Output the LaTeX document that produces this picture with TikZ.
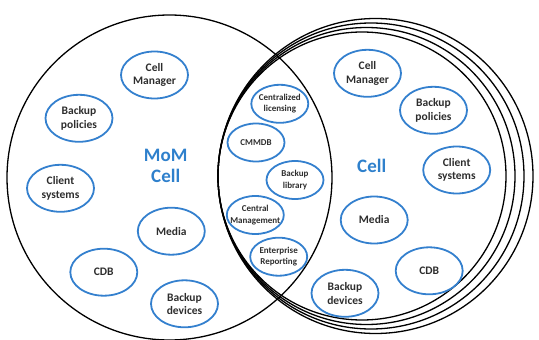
\documentclass[tikz,border=0pt]{standalone}
\usepackage{fontspec}
\setmainfont{Carlito}
\usetikzlibrary{shapes.geometric}
\definecolor{bubbleblue}{RGB}{52,128,206}
\definecolor{titleblue}{RGB}{46,128,204}
\definecolor{ink}{RGB}{45,45,45}
\begin{document}
\begin{tikzpicture}[x=1pt,y=-1pt,
  ring/.style={circle,draw=black,line width=1.3pt,inner sep=0pt},
  bub/.style={ellipse,draw=bubbleblue,line width=1.8pt,inner sep=0pt,
              minimum width=67pt,minimum height=47pt},
  sbub/.style={bub,minimum width=57pt,minimum height=38pt},
  btxt/.style={font=\bfseries\fontsize{11.5}{13.5}\selectfont,text=ink,align=center,inner sep=0pt},
  stxt/.style={font=\bfseries\fontsize{9}{11.5}\selectfont,text=ink,align=center,inner sep=0pt},
  title/.style={font=\bfseries\fontsize{19}{21}\selectfont,text=titleblue,align=center}]

\useasboundingbox (0,0) rectangle (539,340);

% the MoM cell
\node[ring,minimum size=325pt] (mom) at (169.5,177.5) {};
% stack of managed cells, all touching at their left edge
\node[ring,minimum size=288pt] (cellA) at (362,176) {};
\node[ring,minimum size=297pt] (cellB) at (366.5,176) {};
\node[ring,minimum size=306pt] (cellC) at (371,176) {};
\node[ring,minimum size=315pt] (cellD) at (375.5,176) {};

% titles
\node[title] (momtitle) at (165.7,166) {MoM\\Cell};
\node[title] (celltitle) at (371.7,166) {Cell};

% components of the MoM cell
\node[bub,label={[btxt]center:Cell\\Manager}]     (lcm)  at (154.5,75) {};
\node[bub,label={[btxt]center:Backup\\policies}]  (lbp)  at (79,118.3) {};
\node[bub,label={[btxt]center:Client\\systems}]   (lcs)  at (60.5,188.3) {};
\node[bub,label={[btxt]center:Media}]             (lmd)  at (171.3,231.2) {};
\node[bub,label={[btxt]center:CDB}]               (lcdb) at (103.8,272.2) {};
\node[bub,label={[btxt]center:Backup\\devices}]   (lbd)  at (184.5,303.8) {};

% components of a cell
\node[bub,label={[btxt]center:Cell\\Manager}]     (rcm)  at (367.5,73.3) {};
\node[bub,label={[btxt]center:Backup\\policies}]  (rbp)  at (433.5,110.3) {};
\node[bub,label={[btxt]center:Client\\systems}]   (rcs)  at (456.7,170) {};
\node[bub,label={[btxt]center:Media}]             (rmd)  at (374.2,220) {};
\node[bub,label={[btxt]center:CDB}]               (rcdb) at (429.2,270.8) {};
\node[bub,label={[btxt]center:Backup\\devices}]   (rbd)  at (345,293.3) {};

% shared components
\node[sbub,label={[stxt]center:Centralized\\licensing}] (mcl) at (279.8,103.8) {};
\node[sbub,label={[stxt]center:CMMDB}]                  (mdb) at (256,142.5) {};
\node[sbub,label={[stxt]center:Backup\\library}]        (mbl) at (295,180) {};
\node[sbub,label={[stxt]center:Central\\Management}]    (mcm) at (255.3,215) {};
\node[sbub,label={[stxt]center:Enterprise\\Reporting}]  (mer) at (278.7,256.7) {};
\end{tikzpicture}
\end{document}
